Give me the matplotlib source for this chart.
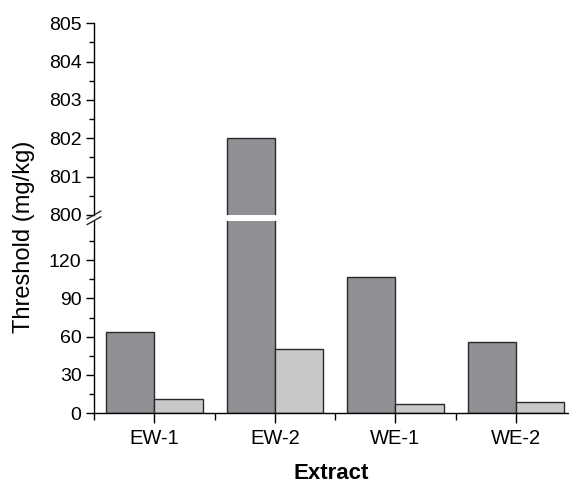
import matplotlib.pyplot as plt
import numpy as np

plt.rcParams['font.family'] = ['Liberation Sans', 'DejaVu Sans']

extracts = ['EW-1', 'EW-2', 'WE-1', 'WE-2']
dark_vals = [64, 802, 107, 56]
light_vals = [11, 50, 7, 9]

dark_color = '#8f9094'
light_color = '#c8c8c9'
edge = '#2a2a2a'

fig = plt.figure(figsize=(5.69, 4.83), dpi=100)
ax_top = fig.add_axes([0.1652, 0.5549, 0.8348, 0.3969])
ax_bot = fig.add_axes([0.1652, 0.1443, 0.8348, 0.3988])

x = np.arange(1, len(extracts) + 1)
w = 0.4
for ax in (ax_top, ax_bot):
    ax.bar(x - w / 2, dark_vals, w, color=dark_color, edgecolor=edge, linewidth=1.0)
    ax.bar(x + w / 2, light_vals, w, color=light_color, edgecolor=edge, linewidth=1.0)
    ax.set_xlim(0.5, 4.44)
    for s in ('top', 'right'):
        ax.spines[s].set_visible(False)
    ax.spines['left'].set_linewidth(1.0)
    ax.tick_params(axis='y', direction='out', length=6, width=1.0, labelsize=14, pad=3)
    ax.tick_params(axis='y', which='minor', direction='out', length=3.5, width=1.0)

ax_top.set_ylim(800, 805)
ax_top.set_yticks([800, 801, 802, 803, 804, 805])
ax_top.set_yticks(np.arange(800.5, 805, 1), minor=True)
ax_top.spines['bottom'].set_visible(False)
ax_top.set_xticks([])

ax_bot.set_ylim(0, 150.8)
ax_bot.set_yticks([0, 30, 60, 90, 120])
ax_bot.set_yticks([15, 45, 75, 105, 135], minor=True)
ax_bot.spines['bottom'].set_linewidth(1.0)
ax_bot.set_xticks(x)
ax_bot.set_xticklabels(extracts)
ax_bot.set_xticks([0.5, 1.5, 2.5, 3.5], minor=True)
ax_bot.tick_params(axis='x', direction='out', length=7, width=1.0, labelsize=14.5, pad=4)
ax_bot.tick_params(axis='x', which='minor', direction='out', length=5, width=1.0)
ax_bot.set_xlabel('Extract', fontsize=16, fontweight='bold', labelpad=11)

fig.text(0.042, 0.51, 'Threshold (mg/kg)', rotation=90, fontsize=17,
         ha='center', va='center')

# break marks on the y axis
for yy in (0.5431, 0.5549):
    fig.add_artist(plt.Line2D([0.1652 - 0.012, 0.1652 + 0.012], [yy - 0.008, yy + 0.008],
                              color=edge, lw=1.0))

fig.savefig('out.png', dpi=100)
